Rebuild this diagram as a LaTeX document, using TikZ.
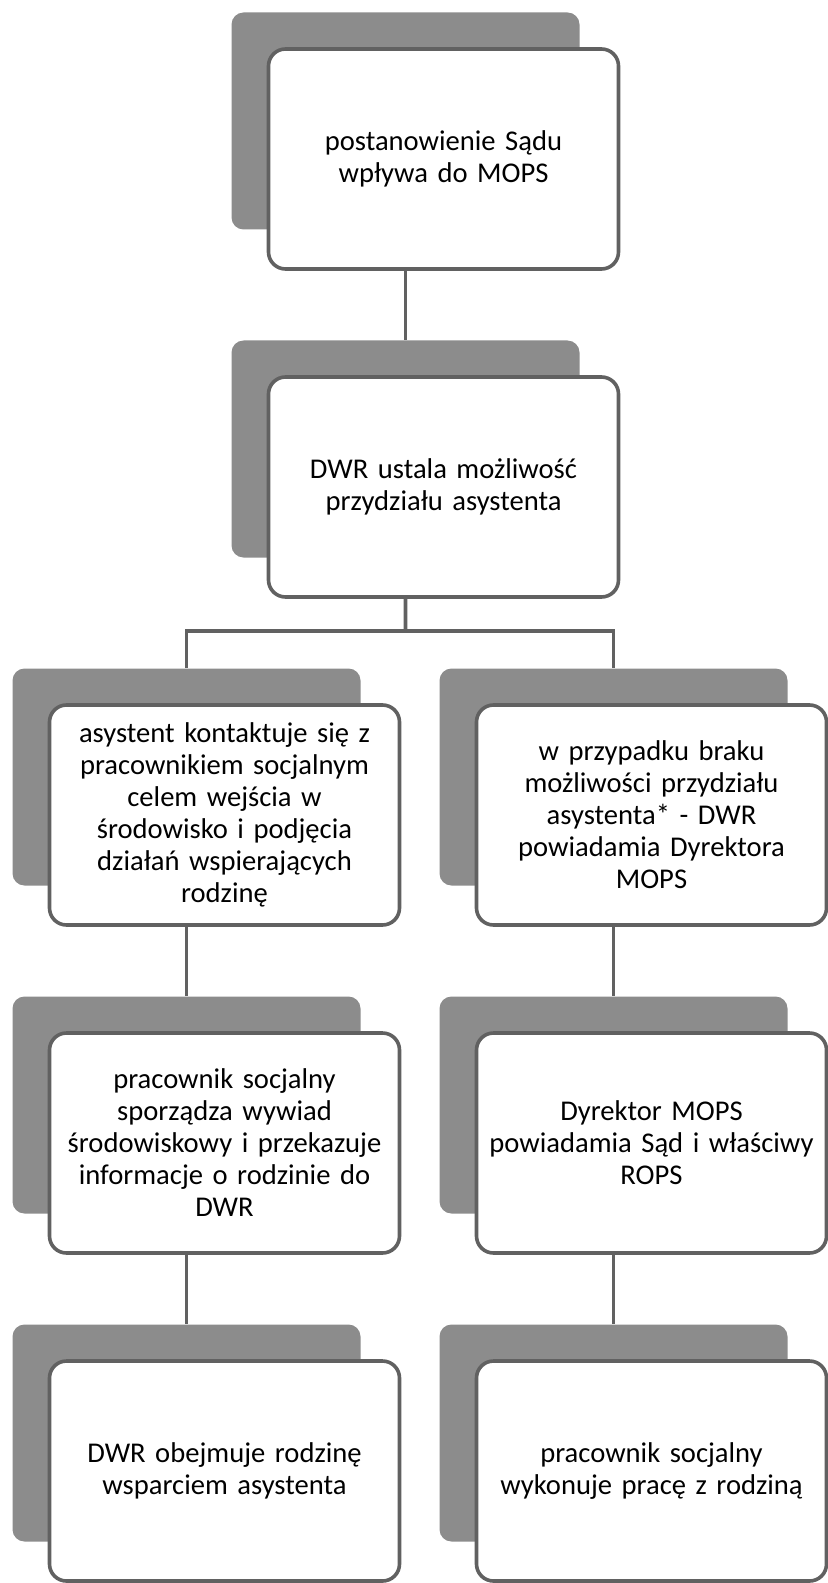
\documentclass[tikz,border=0pt]{standalone}
\usepackage{fontspec}
\setmainfont{Carlito}
\usetikzlibrary{shapes,arrows,positioning,calc}

\begin{document}
\begin{tikzpicture}[node distance=164pt]
    % 定义节点样式
    \tikzstyle{shadowbox} = [rectangle, rounded corners=6pt, minimum width=174pt, minimum height=108.5pt, fill=black!45]
    \tikzstyle{textbox} = [rectangle, rounded corners=8.5pt, minimum width=175pt, minimum height=110pt, text width=165pt, align=center, draw=black!62, line width=1.8pt, fill=white, font=\fontsize{14.3}{16}\selectfont]
    \tikzstyle{line} = [draw=black!62, line width=1.9pt]

    \useasboundingbox (0,0) rectangle (413.5pt,-791.5pt);

    % 灰色底框
    \node [shadowbox] (g1) at (202.75pt,-60.5pt) {};
    \node [shadowbox, below of=g1] (g2) {};
    \node [shadowbox, below of=g2, xshift=-109.5pt] (g3) {};
    \node [shadowbox, below of=g2, xshift=104pt] (g4) {};
    \node [shadowbox, below of=g3] (g5) {};
    \node [shadowbox, below of=g4] (g6) {};
    \node [shadowbox, below of=g5] (g7) {};
    \node [shadowbox, below of=g6] (g8) {};

    % 白色文字框
    \node [textbox] (w1) at ([shift={(19pt,-19pt)}]g1) {postanowienie Sądu\\wpływa do MOPS};
    \node [textbox] (w2) at ([shift={(19pt,-19pt)}]g2) {DWR ustala możliwość\\przydziału asystenta};
    \node [textbox] (w3) at ([shift={(19pt,-19pt)}]g3) {asystent kontaktuje się z\\pracownikiem socjalnym\\celem wejścia w\\środowisko i podjęcia\\działań wspierających\\rodzinę};
    \node [textbox] (w4) at ([shift={(19pt,-19pt)}]g4) {w przypadku braku\\możliwości przydziału\\asystenta* - DWR\\powiadamia Dyrektora\\MOPS};
    \node [textbox] (w5) at ([shift={(19pt,-19pt)}]g5) {pracownik socjalny\\sporządza wywiad\\środowiskowy i przekazuje\\informacje o rodzinie do\\DWR};
    \node [textbox] (w6) at ([shift={(19pt,-19pt)}]g6) {Dyrektor MOPS\\powiadamia Sąd i właściwy\\ROPS};
    \node [textbox] (w7) at ([shift={(19pt,-19pt)}]g7) {DWR obejmuje rodzinę\\wsparciem asystenta};
    \node [textbox] (w8) at ([shift={(19pt,-19pt)}]g8) {pracownik socjalny\\wykonuje pracę z rodziną};

    % 连接线
    \coordinate (fork) at ($(g2.north |- w2.south)!0.47!(g2.north |- g3.north)$);
    \draw [line] (g2.north |- w1.south) -- (g2.north);
    \draw [line] (g2.north |- w2.south) -- (fork);
    \draw [line] (g3.north) |- (fork) -| (g4.north);
    \draw [line] (g5.north |- w3.south) -- (g5.north);
    \draw [line] (g6.north |- w4.south) -- (g6.north);
    \draw [line] (g7.north |- w5.south) -- (g7.north);
    \draw [line] (g8.north |- w6.south) -- (g8.north);
\end{tikzpicture}
\end{document}
